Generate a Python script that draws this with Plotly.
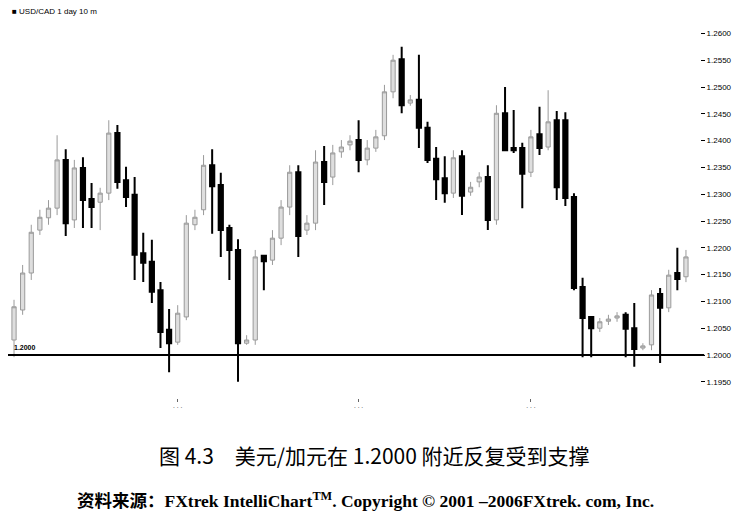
import plotly.graph_objects as go

# Daily USD/CAD candles, left to right
opens = [1.2028, 1.2084, 1.2153, 1.2233, 1.2256, 1.2274, 1.2364, 1.2252, 1.2349, 1.2291,
         1.2285, 1.2302, 1.2414, 1.2326, 1.2299, 1.2190, 1.2174, 1.2121, 1.2047, 1.2024,
         1.2071, 1.2243, 1.2271, 1.2354, 1.2317, 1.2237, 1.2196, 1.2022, 1.2028, 1.2185,
         1.2177, 1.2218, 1.2276, 1.2341, 1.2233, 1.2246, 1.2360, 1.2332, 1.2379, 1.2392,
         1.2401, 1.2364, 1.2386, 1.2409, 1.2491, 1.2552, 1.2470, 1.2476, 1.2424, 1.2366,
         1.2330, 1.2302, 1.2371, 1.2304, 1.2323, 1.2332, 1.2252, 1.2451, 1.2386, 1.2386,
         1.2341, 1.2412, 1.2388, 1.2438, 1.2438, 1.2295, 1.2127, 1.2071, 1.2050, 1.2063,
         1.2069, 1.2075, 1.2050, 1.2013, 1.2019, 1.2114, 1.2088, 1.2153, 1.2146]
highs = [1.2103, 1.2168, 1.2243, 1.2271, 1.2289, 1.2410, 1.2384, 1.2364, 1.2369, 1.2321,
         1.2312, 1.2438, 1.2429, 1.2351, 1.2332, 1.2228, 1.2215, 1.2136, 1.2086, 1.2093,
         1.2261, 1.2271, 1.2373, 1.2384, 1.2340, 1.2243, 1.2216, 1.2037, 1.2196, 1.2187,
         1.2233, 1.2289, 1.2354, 1.2354, 1.2261, 1.2382, 1.2390, 1.2392, 1.2401, 1.2410,
         1.2438, 1.2401, 1.2420, 1.2504, 1.2560, 1.2575, 1.2485, 1.2560, 1.2435, 1.2388,
         1.2371, 1.2382, 1.2382, 1.2323, 1.2341, 1.2354, 1.2466, 1.2500, 1.2457, 1.2396,
         1.2420, 1.2463, 1.2494, 1.2455, 1.2453, 1.2302, 1.2144, 1.2073, 1.2069, 1.2075,
         1.2080, 1.2080, 1.2097, 1.2022, 1.2121, 1.2125, 1.2159, 1.2200, 1.2196]
lows = [1.1996, 1.2075, 1.2140, 1.2224, 1.2243, 1.2261, 1.2222, 1.2237, 1.2237, 1.2237,
        1.2233, 1.2289, 1.2310, 1.2276, 1.2140, 1.2136, 1.2097, 1.2013, 1.1968, 1.2019,
        1.2065, 1.2233, 1.2261, 1.2226, 1.2183, 1.2140, 1.1950, 1.2019, 1.2019, 1.2121,
        1.2168, 1.2205, 1.2261, 1.2183, 1.2224, 1.2233, 1.2280, 1.2317, 1.2368, 1.2382,
        1.2341, 1.2354, 1.2379, 1.2401, 1.2479, 1.2451, 1.2465, 1.2386, 1.2358, 1.2289,
        1.2284, 1.2293, 1.2261, 1.2297, 1.2313, 1.2233, 1.2243, 1.2380, 1.2377, 1.2274,
        1.2332, 1.2373, 1.2382, 1.2289, 1.2278, 1.2121, 1.1996, 1.1996, 1.2043, 1.2056,
        1.2062, 1.1996, 1.1978, 1.2009, 1.2009, 1.1985, 1.2080, 1.2121, 1.2136]
closes = [1.2090, 1.2153, 1.2229, 1.2257, 1.2274, 1.2364, 1.2246, 1.2349, 1.2289, 1.2276,
          1.2302, 1.2414, 1.2323, 1.2295, 1.2187, 1.2172, 1.2118, 1.2043, 1.2022, 1.2078,
          1.2246, 1.2257, 1.2354, 1.2315, 1.2233, 1.2196, 1.2022, 1.2028, 1.2183, 1.2175,
          1.2218, 1.2276, 1.2341, 1.2222, 1.2246, 1.2360, 1.2323, 1.2377, 1.2388, 1.2399,
          1.2364, 1.2386, 1.2407, 1.2491, 1.2550, 1.2466, 1.2476, 1.2424, 1.2364, 1.2328,
          1.2302, 1.2368, 1.2297, 1.2313, 1.2332, 1.2252, 1.2451, 1.2382, 1.2382, 1.2338,
          1.2407, 1.2386, 1.2435, 1.2313, 1.2293, 1.2125, 1.2069, 1.2050, 1.2062, 1.2067,
          1.2073, 1.2049, 1.2011, 1.2017, 1.2112, 1.2088, 1.2149, 1.2142, 1.2183]

y_ticks = [1.1950, 1.2000, 1.2050, 1.2100, 1.2150, 1.2200, 1.2250, 1.2300,
           1.2350, 1.2400, 1.2450, 1.2500, 1.2550, 1.2600]
y_tick_labels = [f"{v:.4f}" for v in y_ticks]
support_level = 1.2000
month_ticks = [19, 40, 60]
month_labels = ["· · ·", "· · ·", "· · ·"]

bars = list(range(len(opens)))

fig = go.Figure()
fig.add_trace(go.Candlestick(
    x=bars, open=opens, high=highs, low=lows, close=closes,
    increasing=dict(line=dict(color="#9a9a9a", width=1), fillcolor="#dedede"),
    decreasing=dict(line=dict(color="#000000", width=2), fillcolor="#000000"),
    whiskerwidth=0, showlegend=False, hoverinfo="x+y",
))

fig.add_shape(type="line", xref="paper", x0=-0.004, x1=1.006, yref="y",
              y0=support_level, y1=support_level,
              line=dict(color="#000000", width=2))

fig.add_annotation(xref="paper", x=0.006, yref="y", y=support_level, yshift=2,
                   text="<b>1.2000</b>", showarrow=False, xanchor="left",
                   yanchor="bottom", font=dict(family="Arial, Liberation Sans", size=7, color="#000"))

fig.add_annotation(xref="paper", x=0.003, yref="paper", y=1.0, yshift=9,
                   text="■ USD/CAD 1 day 10 m", showarrow=False, xanchor="left",
                   yanchor="middle", font=dict(family="Liberation Sans", size=8, color="#000"))

fig.add_annotation(xref="paper", x=0.53, yref="paper", y=0, yshift=-57,
                   text="图 4.3　美元/加元在 1.2000 附近反复受到支撑", showarrow=False,
                   xanchor="center", yanchor="middle",
                   font=dict(family="Noto Sans CJK SC", size=21, color="#000"))

fig.add_annotation(xref="paper", x=0.516, yref="paper", y=0, yshift=-102,
                   text="<b>资料来源：FXtrek IntelliChart<sup>TM</sup>. Copyright © 2001 –2006FXtrek. com, Inc.</b>",
                   showarrow=False, xanchor="center", yanchor="middle",
                   font=dict(family="Liberation Serif, Noto Sans CJK SC", size=17.5, color="#000"))

fig.update_layout(
    width=743, height=518,
    margin=dict(l=0, r=51, t=12, b=128),
    paper_bgcolor="white", plot_bgcolor="white",
    xaxis=dict(range=[-0.70, 79.63], rangeslider=dict(visible=False),
               showgrid=False, zeroline=False, showline=False,
               tickmode="array", tickvals=month_ticks, ticktext=month_labels,
               ticks="outside", ticklen=3, tickcolor="#666",
               tickfont=dict(size=7, color="#444")),
    yaxis=dict(range=[1.19198, 1.2625], side="right", showgrid=False,
               zeroline=False, showline=False,
               tickmode="array", tickvals=y_ticks, ticktext=y_tick_labels,
               ticks="outside", ticklen=4, tickcolor="#000",
               tickfont=dict(family="Arial, Liberation Sans", size=8, color="#000")),
)

fig.write_html("out.html")
